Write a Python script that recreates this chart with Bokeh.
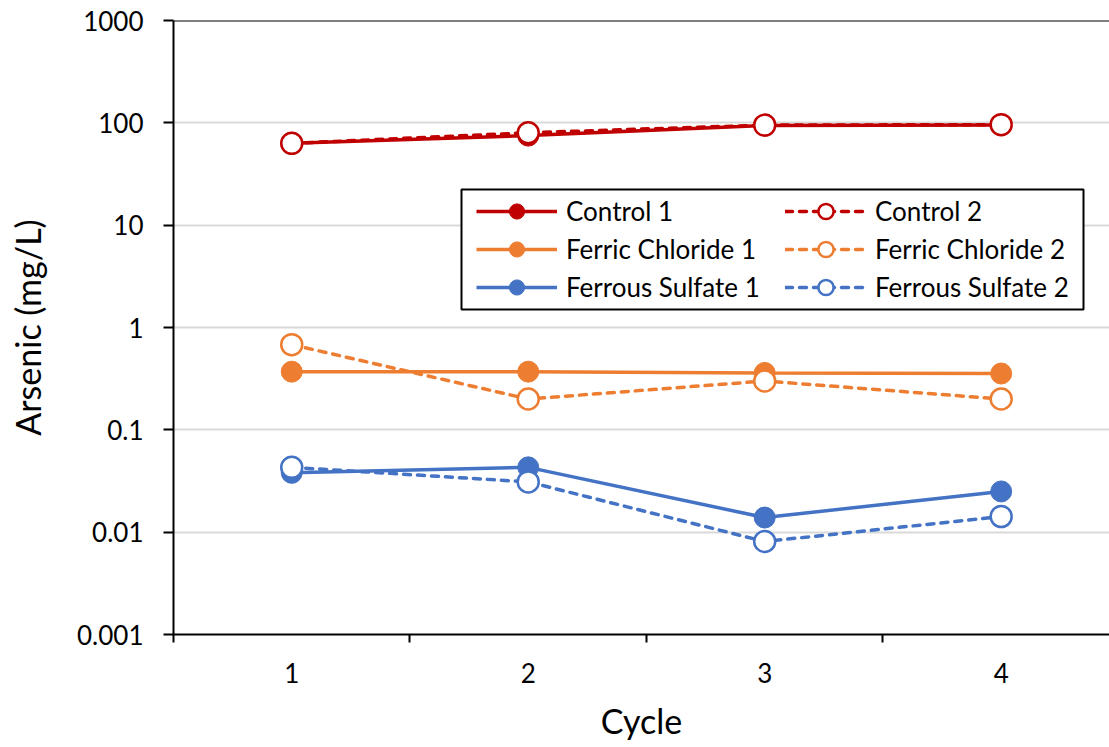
from bokeh.plotting import figure
from bokeh.models import FixedTicker, Legend, LegendItem, Span, Range1d, BoxAnnotation
from bokeh.embed import file_html
from bokeh.resources import INLINE

cycles = [1, 2, 3, 4]
control_1 = [63, 75, 94, 95]
control_2 = [63, 80, 95, 96]
ferric_chloride_1 = [0.37, 0.37, 0.36, 0.355]
ferric_chloride_2 = [0.68, 0.20, 0.30, 0.20]
ferrous_sulfate_1 = [0.038, 0.043, 0.0139, 0.025]
ferrous_sulfate_2 = [0.043, 0.031, 0.0081, 0.0142]
y_ticks = [0.001, 0.01, 0.1, 1, 10, 100, 1000]
y_tick_labels = ["0.001", "0.01", "0.1", "1", "10", "100", "1000"]
x_tick_labels = ["1", "2", "3", "4"]

RED = "#C00000"
ORANGE = "#ED7D31"
BLUE = "#4472C4"
FONT = "Lato"

p = figure(width=1109, height=747, y_axis_type="log", output_backend="svg",
           toolbar_location=None, x_range=Range1d(0.5, 4.458),
           y_range=Range1d(0.001, 1000),
           min_border_left=173, min_border_right=0, min_border_top=20,
           min_border_bottom=113)
p.outline_line_color = None
p.background_fill_color = "white"
p.border_fill_color = "white"

# axes
p.xaxis.ticker = FixedTicker(ticks=cycles, minor_ticks=[0.5, 1.5, 2.5, 3.5, 4.5])
p.xaxis.major_label_overrides = {c: l for c, l in zip(cycles, x_tick_labels)}
p.xaxis.major_tick_out = 0
p.xaxis.major_tick_in = 0
p.xaxis.minor_tick_out = 8
p.xaxis.minor_tick_in = 0
p.xaxis.minor_tick_line_width = 2
p.xaxis.minor_tick_line_color = "black"
p.xaxis.axis_line_width = 2
p.xaxis.axis_line_color = "black"
p.xaxis.major_label_standoff = 20
p.xaxis.axis_label = "Cycle"
p.xaxis.axis_label_standoff = 14

p.yaxis.ticker = FixedTicker(ticks=y_ticks, minor_ticks=[])
p.yaxis.major_label_overrides = {t: l for t, l in zip(y_ticks, y_tick_labels)}
p.yaxis.major_tick_out = 10
p.yaxis.major_tick_in = 0
p.yaxis.major_tick_line_width = 2
p.yaxis.minor_tick_out = 0
p.yaxis.minor_tick_in = 0
p.yaxis.axis_line_width = 2
p.yaxis.axis_line_color = "black"
p.yaxis.major_label_standoff = 20
p.yaxis.axis_label = "Arsenic (mg/L)"
p.yaxis.axis_label_standoff = 26

for ax in (p.xaxis, p.yaxis):
    ax.major_label_text_font = FONT
    ax.major_label_text_font_size = "26px"
    ax.major_label_text_color = "black"
    ax.axis_label_text_font = FONT
    ax.axis_label_text_font_size = "34px"
    ax.axis_label_text_font_style = "normal"
    ax.axis_label_text_color = "black"

p.xgrid.grid_line_color = None
p.ygrid.grid_line_color = "#D9D9D9"
p.ygrid.grid_line_width = 2
p.ygrid.ticker = FixedTicker(ticks=y_ticks, minor_ticks=[])

top = Span(location=1000, dimension="width", line_color="black", line_width=2)
p.add_layout(top)

series = [
    ("Control 1", control_1, RED, False),
    ("Control 2", control_2, RED, True),
    ("Ferric Chloride 1", ferric_chloride_1, ORANGE, False),
    ("Ferric Chloride 2", ferric_chloride_2, ORANGE, True),
    ("Ferrous Sulfate 1", ferrous_sulfate_1, BLUE, False),
    ("Ferrous Sulfate 2", ferrous_sulfate_2, BLUE, True),
]

items = {}
for name, vals, color, dashed in series:
    if dashed:
        ln = p.line(cycles, vals, line_color=color, line_width=3.5, line_dash="7 7",
                    line_cap="round")
        sc = p.scatter(cycles, vals, size=21, marker="circle", fill_color="white",
                       line_color=color, line_width=2.5)
    else:
        ln = p.line(cycles, vals, line_color=color, line_width=3.5)
        sc = p.scatter(cycles, vals, size=21, marker="circle", fill_color=color,
                       line_color=color, line_width=1)
    items[name] = LegendItem(label=name, renderers=[ln, sc])

# legend frame (canvas pixels)
box = BoxAnnotation(left=461, right=1083, top=189, bottom=309,
                    left_units="canvas", right_units="canvas",
                    top_units="canvas", bottom_units="canvas",
                    fill_color="white", fill_alpha=1,
                    line_color="black", line_width=2, line_alpha=1)
p.add_layout(box)

cols = [["Control 1", "Ferric Chloride 1", "Ferrous Sulfate 1"],
        ["Control 2", "Ferric Chloride 2", "Ferrous Sulfate 2"]]
col_x = [303, 612]
for names, lx in zip(cols, col_x):
    lg = Legend(items=[items[n] for n in names], location=(lx, 328),
                label_text_font=FONT, label_text_font_size="26px",
                label_text_color="black",
                glyph_width=81, glyph_height=38, label_height=38,
                spacing=0, padding=0, margin=0, label_standoff=9,
                border_line_color=None, background_fill_alpha=0)
    p.add_layout(lg, "center")

with open("out.html", "w") as f:
    f.write(file_html(p, INLINE))
